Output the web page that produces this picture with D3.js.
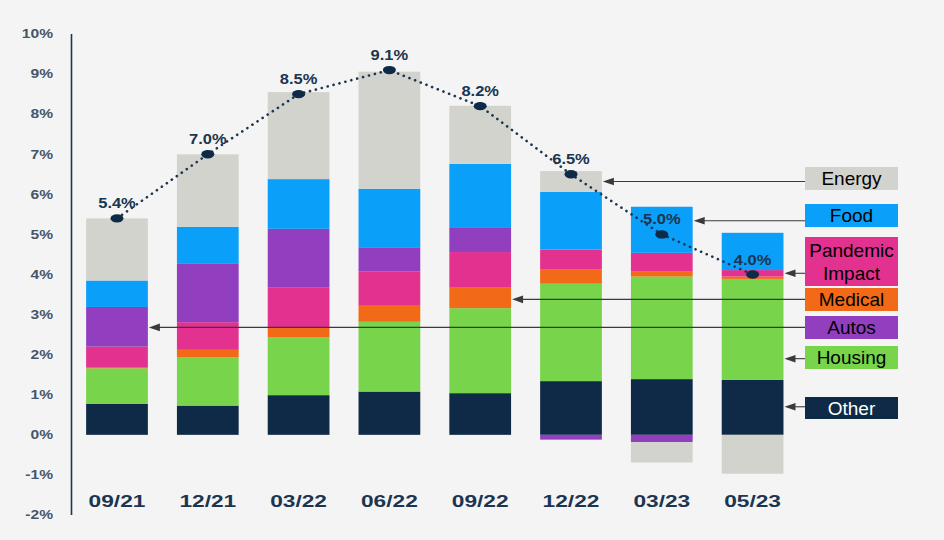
<!DOCTYPE html>
<meta charset="utf-8">
<style>
body { margin: 0; background: #f4f4f4; }
svg { display: block; font-family: "Liberation Sans", Arial, sans-serif; }
.ytick { font-size: 12px; font-weight: bold; fill: #44566a; }
.xtick { font-size: 16px; font-weight: bold; fill: #1c3550; }
.val { font-size: 15px; font-weight: bold; fill: #1c3550; }
.legend text { font-size: 19px; }
.pointers line { stroke: #3a3a3a; stroke-width: 1.1px; }
.pointers path { fill: #3a3a3a; }
</style>

<svg width="944" height="540"></svg>

<script src="https://d3js.org/d3.v7.min.js"></script>
<script>

// values (percentage points)
var categories = ["09/21", "12/21", "03/22", "06/22", "09/22", "12/22", "03/23", "05/23"];
var headline = [5.4, 7.0, 8.5, 9.1, 8.2, 6.5, 5.0, 4.0];

var other    = [0.77, 0.73, 0.99, 1.08, 1.04, 1.34, 1.39, 1.37];
var housing  = [0.89, 1.20, 1.44, 1.74, 2.12, 2.43, 2.56, 2.52];
var medical  = [0.03, 0.19, 0.25, 0.40, 0.51, 0.35, 0.12, 0.06];
var pandemic = [0.51, 0.69, 0.99, 0.85, 0.89, 0.50, 0.47, 0.16];
var autos    = [0.99, 1.47, 1.47, 0.61, 0.62, -0.12, -0.18, 0];
var food     = [0.66, 0.91, 1.24, 1.46, 1.58, 1.44, 1.15, 0.93];
var energy   = [1.55, 1.81, 2.17, 2.92, 1.45, 0.52, -0.51, -0.97];

var yTicks = [-2, -1, 0, 1, 2, 3, 4, 5, 6, 7, 8, 9, 10];

var seriesKeys = ["Other", "Housing", "Medical", "Pandemic", "Autos", "Food", "Energy"];
var seriesValues = [other, housing, medical, pandemic, autos, food, energy];

var colors = {
  Other: "#0e2a46",
  Housing: "#77d44b",
  Medical: "#f26a17",
  Pandemic: "#e2318e",
  Autos: "#913fbf",
  Food: "#0a9ff8",
  Energy: "#d3d3ce"
};

// legend: label lines, which bar the pointer goes to, and the level it points at
var legendItems = [
  { key: "Energy",   lines: ["Energy"],             target: 5, level: 6.32 },
  { key: "Food",     lines: ["Food"],               target: 6, level: 5.34 },
  { key: "Pandemic", lines: ["Pandemic", "Impact"], target: 7, level: 4.03 },
  { key: "Medical",  lines: ["Medical"],            target: 4, level: 3.38 },
  { key: "Autos",    lines: ["Autos"],              target: 0, level: 2.68 },
  { key: "Housing",  lines: ["Housing"],            target: 7, level: 1.90 },
  { key: "Other",    lines: ["Other"],              target: 7, level: 0.70 }
];
var legendBoxes = [[167, 23], [204, 23], [237, 49], [288, 23], [316, 23], [346, 23], [397, 22]];

var svg = d3.select("svg");

var table = categories.map(function(c, i) {
  var row = { cat: c };
  seriesKeys.forEach(function(k, j) { row[k] = seriesValues[j][i]; });
  return row;
});

var stacked = d3.stack()
  .keys(seriesKeys)
  .offset(d3.stackOffsetDiverging)(table);

var x = d3.scaleBand()
  .domain(categories)
  .range([71.6, 798])
  .paddingInner(0.32)
  .paddingOuter(0.16);

var y = d3.scaleLinear()
  .domain([-2, 10])
  .range([515, 34]);

// y axis line + labels
svg.append("line")
  .attr("x1", 71.5).attr("x2", 71.5)
  .attr("y1", y(10)).attr("y2", y(-2))
  .attr("stroke", "#1e3652")
  .attr("stroke-width", 1.6);

svg.append("g").selectAll("text")
  .data(yTicks)
  .enter().append("text")
    .attr("class", "ytick")
    .attr("text-anchor", "end")
    .attr("dominant-baseline", "central")
    .attr("transform", function(d) { return "translate(53," + y(d) + ") scale(1.3,1)"; })
    .text(function(d) { return d + "%"; });

// stacked bars
svg.append("g")
  .selectAll("g")
  .data(stacked)
  .enter().append("g")
    .attr("fill", function(d) { return colors[d.key]; })
  .selectAll("rect")
  .data(function(d) { return d; })
  .enter().append("rect")
    .attr("x", function(d) { return x(d.data.cat); })
    .attr("width", x.bandwidth())
    .attr("y", function(d) { return y(Math.max(d[0], d[1])); })
    .attr("height", function(d) { return Math.abs(y(d[0]) - y(d[1])); });

// category labels
svg.append("g").selectAll("text")
  .data(categories)
  .enter().append("text")
    .attr("class", "xtick")
    .attr("text-anchor", "middle")
    .attr("dominant-baseline", "central")
    .attr("transform", function(d) { return "translate(" + (x(d) + x.bandwidth() / 2) + ",501) scale(1.42,1)"; })
    .text(function(d) { return d; });

// pointers from legend to bars
function tipX(d) { return x(categories[d.target]) + x.bandwidth() + 1; }

var pointers = svg.append("g")
    .attr("class", "pointers")
  .selectAll("g")
  .data(legendItems)
  .enter().append("g");

pointers.append("line")
    .attr("x1", 805)
    .attr("x2", function(d) { return tipX(d) + 8; })
    .attr("y1", function(d) { return y(d.level); })
    .attr("y2", function(d) { return y(d.level); });

pointers.append("path")
    .attr("d", function(d) {
      var tx = tipX(d), ty = y(d.level);
      return "M" + tx + "," + ty + "L" + (tx + 11) + "," + (ty - 3.8) + "L" + (tx + 11) + "," + (ty + 3.8) + "Z";
    });

// headline line (dotted)
var pts = categories.map(function(c, i) { return [x(c) + x.bandwidth() / 2, y(headline[i])]; });

svg.append("path")
  .attr("d", d3.line()(pts))
  .attr("fill", "none")
  .attr("stroke", "#1c3550")
  .attr("stroke-width", 2.6)
  .attr("stroke-linecap", "round")
  .attr("stroke-dasharray", "0.1,6");

svg.append("g").selectAll("ellipse")
  .data(pts)
  .enter().append("ellipse")
    .attr("cx", function(d) { return d[0]; })
    .attr("cy", function(d) { return d[1]; })
    .attr("rx", 6.5)
    .attr("ry", 4.2)
    .attr("fill", "#0e2a46");

svg.append("g").selectAll("text")
  .data(pts)
  .enter().append("text")
    .attr("class", "val")
    .attr("text-anchor", "middle")
    .attr("transform", function(d) { return "translate(" + d[0] + "," + (d[1] - 10) + ") scale(1.1,1)"; })
    .text(function(d, i) { return headline[i].toFixed(1) + "%"; });

// legend boxes
var legend = svg.append("g")
    .attr("class", "legend")
  .selectAll("g")
  .data(legendItems)
  .enter().append("g");

legend.append("rect")
    .attr("x", 805)
    .attr("width", 93)
    .attr("y", function(d, i) { return legendBoxes[i][0]; })
    .attr("height", function(d, i) { return legendBoxes[i][1]; })
    .attr("fill", function(d) { return colors[d.key]; });

legend.each(function(d, i) {
  var g = d3.select(this);
  var top = legendBoxes[i][0], h = legendBoxes[i][1];
  var n = d.lines.length;
  d.lines.forEach(function(t, k) {
    g.append("text")
      .attr("x", 851.5)
      .attr("y", top + h / 2 + (k - (n - 1) / 2) * 23)
      .attr("text-anchor", "middle")
      .attr("dominant-baseline", "central")
      .attr("fill", d.key == "Other" ? "#ffffff" : "#000000")
      .text(t);
  });
});

</script>
